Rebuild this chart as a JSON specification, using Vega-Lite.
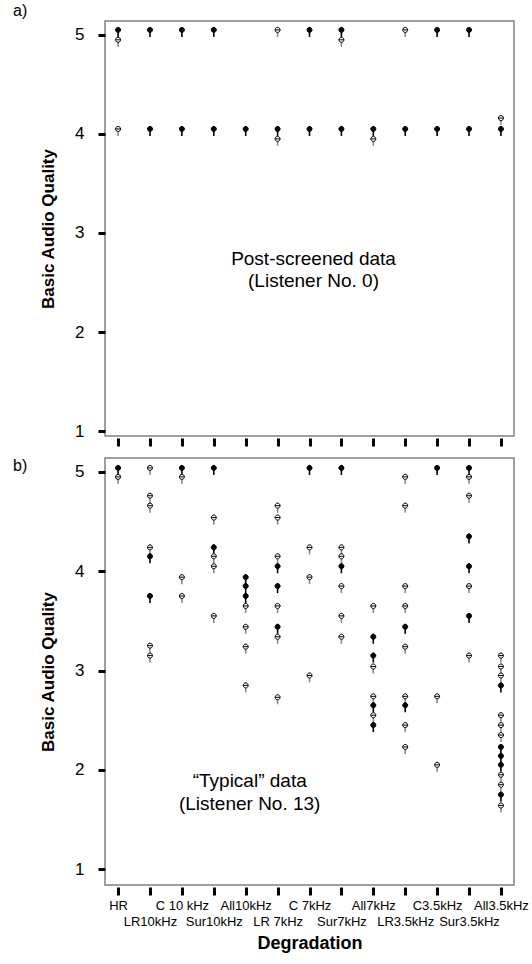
{
  "$schema": "https://vega.github.io/schema/vega-lite/v6.json",
  "padding": {"left": 12, "top": 2, "right": 0, "bottom": 4},
  "config": {
    "font": "Liberation Sans",
    "view": {"stroke": "#808080", "strokeWidth": 1.5},
    "axis": {"grid": false, "domain": false, "tickColor": "black", "tickWidth": 3, "labelColor": "black", "titleColor": "black"}
  },
  "datasets": {
    "a": [
      {"d": "HR", "s": 5.05}, {"d": "HR", "s": 5.05}, {"d": "HR", "s": 4.95}, {"d": "HR", "s": 4.05},
      {"d": "LR10kHz", "s": 5.05}, {"d": "LR10kHz", "s": 5.05}, {"d": "LR10kHz", "s": 4.05}, {"d": "LR10kHz", "s": 4.05},
      {"d": "C 10 kHz", "s": 5.05}, {"d": "C 10 kHz", "s": 5.05}, {"d": "C 10 kHz", "s": 4.05}, {"d": "C 10 kHz", "s": 4.05},
      {"d": "Sur10kHz", "s": 5.05}, {"d": "Sur10kHz", "s": 5.05}, {"d": "Sur10kHz", "s": 4.05}, {"d": "Sur10kHz", "s": 4.05},
      {"d": "All10kHz", "s": 4.05}, {"d": "All10kHz", "s": 4.05},
      {"d": "LR 7kHz", "s": 5.05}, {"d": "LR 7kHz", "s": 4.05}, {"d": "LR 7kHz", "s": 4.05}, {"d": "LR 7kHz", "s": 3.95},
      {"d": "C 7kHz", "s": 5.05}, {"d": "C 7kHz", "s": 5.05}, {"d": "C 7kHz", "s": 4.05}, {"d": "C 7kHz", "s": 4.05},
      {"d": "Sur7kHz", "s": 5.05}, {"d": "Sur7kHz", "s": 5.05}, {"d": "Sur7kHz", "s": 4.95}, {"d": "Sur7kHz", "s": 4.05}, {"d": "Sur7kHz", "s": 4.05},
      {"d": "All7kHz", "s": 4.05}, {"d": "All7kHz", "s": 4.05}, {"d": "All7kHz", "s": 3.95},
      {"d": "LR3.5kHz", "s": 5.05}, {"d": "LR3.5kHz", "s": 4.05}, {"d": "LR3.5kHz", "s": 4.05},
      {"d": "C3.5kHz", "s": 5.05}, {"d": "C3.5kHz", "s": 5.05}, {"d": "C3.5kHz", "s": 4.05}, {"d": "C3.5kHz", "s": 4.05},
      {"d": "Sur3.5kHz", "s": 5.05}, {"d": "Sur3.5kHz", "s": 5.05}, {"d": "Sur3.5kHz", "s": 4.05}, {"d": "Sur3.5kHz", "s": 4.05},
      {"d": "All3.5kHz", "s": 4.16}, {"d": "All3.5kHz", "s": 4.05}, {"d": "All3.5kHz", "s": 4.05}
    ],
    "b": [
      {"d": "HR", "s": 5.04}, {"d": "HR", "s": 5.04}, {"d": "HR", "s": 4.95},
      {"d": "LR10kHz", "s": 5.04}, {"d": "LR10kHz", "s": 4.76}, {"d": "LR10kHz", "s": 4.66}, {"d": "LR10kHz", "s": 4.24}, {"d": "LR10kHz", "s": 4.15}, {"d": "LR10kHz", "s": 4.15}, {"d": "LR10kHz", "s": 3.75}, {"d": "LR10kHz", "s": 3.75}, {"d": "LR10kHz", "s": 3.25}, {"d": "LR10kHz", "s": 3.15},
      {"d": "C 10 kHz", "s": 5.04}, {"d": "C 10 kHz", "s": 5.04}, {"d": "C 10 kHz", "s": 4.95}, {"d": "C 10 kHz", "s": 3.94}, {"d": "C 10 kHz", "s": 3.75},
      {"d": "Sur10kHz", "s": 5.04}, {"d": "Sur10kHz", "s": 5.04}, {"d": "Sur10kHz", "s": 4.54}, {"d": "Sur10kHz", "s": 4.24}, {"d": "Sur10kHz", "s": 4.24}, {"d": "Sur10kHz", "s": 4.15}, {"d": "Sur10kHz", "s": 4.05}, {"d": "Sur10kHz", "s": 3.55},
      {"d": "All10kHz", "s": 3.94}, {"d": "All10kHz", "s": 3.94}, {"d": "All10kHz", "s": 3.85}, {"d": "All10kHz", "s": 3.85}, {"d": "All10kHz", "s": 3.75}, {"d": "All10kHz", "s": 3.75}, {"d": "All10kHz", "s": 3.65}, {"d": "All10kHz", "s": 3.44}, {"d": "All10kHz", "s": 3.24}, {"d": "All10kHz", "s": 2.85},
      {"d": "LR 7kHz", "s": 4.66}, {"d": "LR 7kHz", "s": 4.54}, {"d": "LR 7kHz", "s": 4.15}, {"d": "LR 7kHz", "s": 4.05}, {"d": "LR 7kHz", "s": 4.05}, {"d": "LR 7kHz", "s": 3.85}, {"d": "LR 7kHz", "s": 3.85}, {"d": "LR 7kHz", "s": 3.65}, {"d": "LR 7kHz", "s": 3.44}, {"d": "LR 7kHz", "s": 3.44}, {"d": "LR 7kHz", "s": 3.34}, {"d": "LR 7kHz", "s": 2.73},
      {"d": "C 7kHz", "s": 5.04}, {"d": "C 7kHz", "s": 5.04}, {"d": "C 7kHz", "s": 4.24}, {"d": "C 7kHz", "s": 3.94}, {"d": "C 7kHz", "s": 2.95},
      {"d": "Sur7kHz", "s": 5.04}, {"d": "Sur7kHz", "s": 5.04}, {"d": "Sur7kHz", "s": 4.24}, {"d": "Sur7kHz", "s": 4.15}, {"d": "Sur7kHz", "s": 4.05}, {"d": "Sur7kHz", "s": 4.05}, {"d": "Sur7kHz", "s": 3.85}, {"d": "Sur7kHz", "s": 3.55}, {"d": "Sur7kHz", "s": 3.34},
      {"d": "All7kHz", "s": 3.65}, {"d": "All7kHz", "s": 3.34}, {"d": "All7kHz", "s": 3.34}, {"d": "All7kHz", "s": 3.15}, {"d": "All7kHz", "s": 3.15}, {"d": "All7kHz", "s": 3.04}, {"d": "All7kHz", "s": 2.74}, {"d": "All7kHz", "s": 2.65}, {"d": "All7kHz", "s": 2.65}, {"d": "All7kHz", "s": 2.55}, {"d": "All7kHz", "s": 2.45}, {"d": "All7kHz", "s": 2.45},
      {"d": "LR3.5kHz", "s": 4.95}, {"d": "LR3.5kHz", "s": 4.66}, {"d": "LR3.5kHz", "s": 3.85}, {"d": "LR3.5kHz", "s": 3.65}, {"d": "LR3.5kHz", "s": 3.44}, {"d": "LR3.5kHz", "s": 3.44}, {"d": "LR3.5kHz", "s": 3.24}, {"d": "LR3.5kHz", "s": 2.74}, {"d": "LR3.5kHz", "s": 2.65}, {"d": "LR3.5kHz", "s": 2.65}, {"d": "LR3.5kHz", "s": 2.45}, {"d": "LR3.5kHz", "s": 2.23},
      {"d": "C3.5kHz", "s": 5.04}, {"d": "C3.5kHz", "s": 5.04}, {"d": "C3.5kHz", "s": 2.74}, {"d": "C3.5kHz", "s": 2.05},
      {"d": "Sur3.5kHz", "s": 5.04}, {"d": "Sur3.5kHz", "s": 5.04}, {"d": "Sur3.5kHz", "s": 4.95}, {"d": "Sur3.5kHz", "s": 4.76}, {"d": "Sur3.5kHz", "s": 4.35}, {"d": "Sur3.5kHz", "s": 4.35}, {"d": "Sur3.5kHz", "s": 4.05}, {"d": "Sur3.5kHz", "s": 4.05}, {"d": "Sur3.5kHz", "s": 3.85}, {"d": "Sur3.5kHz", "s": 3.55}, {"d": "Sur3.5kHz", "s": 3.55}, {"d": "Sur3.5kHz", "s": 3.15},
      {"d": "All3.5kHz", "s": 3.15}, {"d": "All3.5kHz", "s": 3.04}, {"d": "All3.5kHz", "s": 2.95}, {"d": "All3.5kHz", "s": 2.85}, {"d": "All3.5kHz", "s": 2.85}, {"d": "All3.5kHz", "s": 2.55}, {"d": "All3.5kHz", "s": 2.45}, {"d": "All3.5kHz", "s": 2.35}, {"d": "All3.5kHz", "s": 2.23}, {"d": "All3.5kHz", "s": 2.23}, {"d": "All3.5kHz", "s": 2.14}, {"d": "All3.5kHz", "s": 2.14}, {"d": "All3.5kHz", "s": 2.05}, {"d": "All3.5kHz", "s": 2.05}, {"d": "All3.5kHz", "s": 1.95}, {"d": "All3.5kHz", "s": 1.85}, {"d": "All3.5kHz", "s": 1.75}, {"d": "All3.5kHz", "s": 1.75}, {"d": "All3.5kHz", "s": 1.64}
    ]
  },
  "spacing": 8,
  "vconcat": [
    {
      "width": 409,
      "height": 415,
      "title": {"text": "a)", "anchor": "start", "frame": "group", "dx": -92, "offset": 2, "fontSize": 16, "fontWeight": "normal", "color": "black"},
      "layer": [
        {
          "data": {"name": "a"},
          "transform": [{"aggregate": [{"op": "count", "as": "n"}], "groupby": ["d", "s"]}],
          "mark": {"type": "point", "shape": "M0,-0.6L0,1.4", "filled": false, "size": 100, "strokeWidth": 1.6, "opacity": 1},
          "encoding": {
            "x": {"field": "d", "type": "ordinal", "sort": null,
              "scale": {"type": "point", "padding": 0.41, "domain": ["HR", "LR10kHz", "C 10 kHz", "Sur10kHz", "All10kHz", "LR 7kHz", "C 7kHz", "Sur7kHz", "All7kHz", "LR3.5kHz", "C3.5kHz", "Sur3.5kHz", "All3.5kHz"]},
              "axis": {"labels": false, "title": null, "tickSize": 8, "offset": 2}},
            "y": {"field": "s", "type": "quantitative",
              "scale": {"domain": [0.95, 5.14], "nice": false, "zero": false},
              "axis": {"values": [1, 2, 3, 4, 5], "tickSize": 7, "offset": 0, "labelFontSize": 17, "labelPadding": 14, "title": "Basic Audio Quality", "titleFontSize": 17, "titleFontWeight": "bold", "titlePadding": 17}},
            "color": {"condition": {"test": "datum.n > 1", "value": "black"}, "value": "#8a8a8a"}
          }
        },
        {
          "data": {"name": "a"},
          "transform": [{"aggregate": [{"op": "count", "as": "n"}], "groupby": ["d", "s"]}],
          "mark": {"type": "point", "shape": "M-0.5,0A0.5,0.5 0 1,1 0.5,0A0.5,0.5 0 1,1 -0.5,0Z M-0.5,0L0.5,0", "filled": true, "size": 100, "stroke": "black", "strokeWidth": 1, "opacity": 1},
          "encoding": {
            "x": {"field": "d", "type": "ordinal", "sort": null,
              "axis": {"labels": false, "title": null, "tickSize": 8, "offset": 2}},
            "y": {"field": "s", "type": "quantitative",
              "axis": {"values": [1, 2, 3, 4, 5], "tickSize": 7, "offset": 0, "labelFontSize": 17, "labelPadding": 14, "title": "Basic Audio Quality", "titleFontSize": 17, "titleFontWeight": "bold", "titlePadding": 17}},
            "color": {"condition": {"test": "datum.n > 1", "value": "black"}, "value": "white"}
          }
        },
        {
          "data": {"values": [{"t": "Post-screened data\n(Listener No. 0)"}]},
          "mark": {"type": "text", "fontSize": 19, "lineBreak": "\n", "lineHeight": 22, "align": "center", "baseline": "middle", "dx": 4, "color": "black"},
          "encoding": {
            "x": {"datum": "C 7kHz", "type": "ordinal",
              "axis": {"labels": false, "title": null, "tickSize": 8, "offset": 2}},
            "y": {"datum": 2.74, "type": "quantitative",
              "axis": {"values": [1, 2, 3, 4, 5], "tickSize": 7, "offset": 0, "labelFontSize": 17, "labelPadding": 14, "title": "Basic Audio Quality", "titleFontSize": 17, "titleFontWeight": "bold", "titlePadding": 17}},
            "text": {"field": "t", "type": "nominal"}
          }
        }
      ]
    },
    {
      "width": 409,
      "height": 427,
      "title": {"text": "b)", "anchor": "start", "frame": "group", "dx": -92, "dy": 16, "offset": 0, "fontSize": 16, "fontWeight": "normal", "color": "black"},
      "layer": [
        {
          "data": {"name": "b"},
          "transform": [{"aggregate": [{"op": "count", "as": "n"}], "groupby": ["d", "s"]}],
          "mark": {"type": "point", "shape": "M0,-0.6L0,1.4", "filled": false, "size": 100, "strokeWidth": 1.6, "opacity": 1},
          "encoding": {
            "x": {"field": "d", "type": "ordinal", "sort": null,
              "scale": {"type": "point", "padding": 0.41, "domain": ["HR", "LR10kHz", "C 10 kHz", "Sur10kHz", "All10kHz", "LR 7kHz", "C 7kHz", "Sur7kHz", "All7kHz", "LR3.5kHz", "C3.5kHz", "Sur3.5kHz", "All3.5kHz"]},
              "axis": {"tickSize": 8, "offset": 2, "labelAngle": 0, "labelFontSize": 13, "labelPadding": 4, "labelLineHeight": 16, "labelBaseline": "top", "labelOverlap": false, "labelFlush": false, "labelBound": false,
                "labelExpr": "round(datum.index * 12) % 2 == 0 ? datum.label : ['', datum.label]",
                "title": "Degradation", "titleFontSize": 18, "titleFontWeight": "bold", "titlePadding": 6}},
            "y": {"field": "s", "type": "quantitative",
              "scale": {"domain": [0.84, 5.14], "nice": false, "zero": false},
              "axis": {"values": [1, 2, 3, 4, 5], "tickSize": 7, "offset": 0, "labelFontSize": 17, "labelPadding": 14, "title": "Basic Audio Quality", "titleFontSize": 17, "titleFontWeight": "bold", "titlePadding": 17}},
            "color": {"condition": {"test": "datum.n > 1", "value": "black"}, "value": "#8a8a8a"}
          }
        },
        {
          "data": {"name": "b"},
          "transform": [{"aggregate": [{"op": "count", "as": "n"}], "groupby": ["d", "s"]}],
          "mark": {"type": "point", "shape": "M-0.5,0A0.5,0.5 0 1,1 0.5,0A0.5,0.5 0 1,1 -0.5,0Z M-0.5,0L0.5,0", "filled": true, "size": 100, "stroke": "black", "strokeWidth": 1, "opacity": 1},
          "encoding": {
            "x": {"field": "d", "type": "ordinal", "sort": null,
              "axis": {"tickSize": 8, "offset": 2, "labelAngle": 0, "labelFontSize": 13, "labelPadding": 4, "labelLineHeight": 16, "labelBaseline": "top", "labelOverlap": false, "labelFlush": false, "labelBound": false,
                "labelExpr": "round(datum.index * 12) % 2 == 0 ? datum.label : ['', datum.label]",
                "title": "Degradation", "titleFontSize": 18, "titleFontWeight": "bold", "titlePadding": 6}},
            "y": {"field": "s", "type": "quantitative",
              "axis": {"values": [1, 2, 3, 4, 5], "tickSize": 7, "offset": 0, "labelFontSize": 17, "labelPadding": 14, "title": "Basic Audio Quality", "titleFontSize": 17, "titleFontWeight": "bold", "titlePadding": 17}},
            "color": {"condition": {"test": "datum.n > 1", "value": "black"}, "value": "white"}
          }
        },
        {
          "data": {"values": [{"t": "“Typical” data\n(Listener No. 13)"}]},
          "mark": {"type": "text", "fontSize": 19, "lineBreak": "\n", "lineHeight": 23, "align": "center", "baseline": "middle", "dx": 4, "color": "black"},
          "encoding": {
            "x": {"datum": "All10kHz", "type": "ordinal",
              "axis": {"tickSize": 8, "offset": 2, "labelAngle": 0, "labelFontSize": 13, "labelPadding": 4, "labelLineHeight": 16, "labelBaseline": "top", "labelOverlap": false, "labelFlush": false, "labelBound": false,
                "labelExpr": "round(datum.index * 12) % 2 == 0 ? datum.label : ['', datum.label]",
                "title": "Degradation", "titleFontSize": 18, "titleFontWeight": "bold", "titlePadding": 6}},
            "y": {"datum": 1.89, "type": "quantitative",
              "axis": {"values": [1, 2, 3, 4, 5], "tickSize": 7, "offset": 0, "labelFontSize": 17, "labelPadding": 14, "title": "Basic Audio Quality", "titleFontSize": 17, "titleFontWeight": "bold", "titlePadding": 17}},
            "text": {"field": "t", "type": "nominal"}
          }
        }
      ]
    }
  ]
}
